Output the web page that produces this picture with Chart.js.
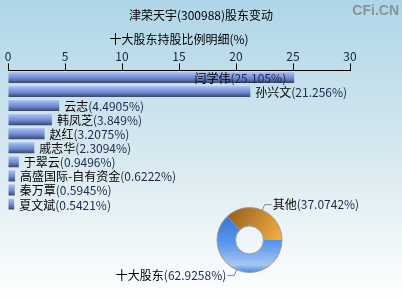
<!DOCTYPE html>
<html>
<head>
<meta charset="utf-8">
<script src="https://cdn.jsdelivr.net/npm/chart.js@4/dist/chart.umd.min.js"></script>
<style>
  html, body { margin: 0; padding: 0; }
  body {
    width: 402px; height: 300px; position: relative; overflow: hidden;
    background: linear-gradient(to bottom, #aed6e8 0%, #d6e8ef 50%, #ffffff 100%);
  }
  canvas { position: absolute; left: 0; top: 0; }
</style>
</head>
<body>
<canvas id="bar-chart" width="402" height="300"></canvas>
<canvas id="pie-chart" width="402" height="300"></canvas>
<script>
const chartTitle = '津荣天宇(300988)股东变动';
const barTitle = '十大股东持股比例明细(%)';
const watermark = 'CFi.CN';

const holderNames = ['闫学伟', '孙兴文', '云志', '韩凤芝', '赵红', '戚志华', '于翠云', '高盛国际-自有资金', '秦万覃', '夏文斌'];
const holderPct = [25.105, 21.256, 4.4905, 3.849, 3.2075, 2.3094, 0.9496, 0.6222, 0.5945, 0.5421];
const xTicks = [0, 5, 10, 15, 20, 25, 30];

const pieLabels = ['十大股东', '其他'];
const pieValues = [62.9258, 37.0742];

const FONT = '"Noto Sans CJK SC", "Noto Sans", sans-serif';
const NUM_COLOR = '#1c2852';
const BAR_PCT = 0.79;
Chart.defaults.font.family = FONT;
Chart.defaults.animation = false;

// name in black, "(value%)" in dark navy
function drawLabel(ctx, name, value, x, y, align) {
  const num = '(' + value + '%)';
  const wName = ctx.measureText(name).width;
  const wNum = ctx.measureText(num).width;
  const left = align === 'right' ? x - wName - wNum : x;
  ctx.textAlign = 'left';
  ctx.fillStyle = '#000';
  ctx.fillText(name, left, y);
  ctx.fillStyle = NUM_COLOR;
  ctx.fillText(num, left + wName, y);
  return wName + wNum;
}

// cylinder-like shading, one gradient per bar from the y scale
function barGradient(context) {
  const chart = context.chart;
  const y = chart.scales.y;
  const area = chart.chartArea;
  if (!y || !area) return '#7a96dc';
  const center = y.getPixelForValue(context.dataIndex);
  const half = (area.bottom - area.top) / holderNames.length * BAR_PCT / 2;
  const g = chart.ctx.createLinearGradient(0, center - half, 0, center + half);
  g.addColorStop(0, '#b4c6ea');
  g.addColorStop(0.3, '#86a4ea');
  g.addColorStop(0.6, '#6c86cc');
  g.addColorStop(1, '#3a4566');
  return g;
}

const titlePlugin = {
  id: 'titles',
  afterDraw(chart) {
    const ctx = chart.ctx;
    const area = chart.chartArea;
    ctx.save();
    ctx.font = '12px ' + FONT;
    ctx.textBaseline = 'middle';
    const w1 = ctx.measureText(chartTitle).width;
    ctx.fillStyle = '#000';
    ctx.fillText(chartTitle, chart.width / 2 - w1 / 2, 15);
    const w2 = ctx.measureText(barTitle).width;
    ctx.fillText(barTitle, (area.left + area.right) / 2 - w2 / 2, 39);
    ctx.font = 'bold 14px "Liberation Sans", sans-serif';
    ctx.fillStyle = '#8c9296';
    ctx.textAlign = 'right';
    ctx.fillText(watermark, 399, 11);
    ctx.restore();
  }
};

const barLabels = {
  id: 'barLabels',
  afterDatasetsDraw(chart) {
    const ctx = chart.ctx;
    const area = chart.chartArea;
    ctx.save();
    ctx.font = '12px ' + FONT;
    ctx.textBaseline = 'middle';
    chart.getDatasetMeta(0).data.forEach((el, i) => {
      const num = '(' + holderPct[i] + '%)';
      const w = ctx.measureText(holderNames[i]).width + ctx.measureText(num).width;
      if (el.x + 5 + w > area.right) {
        drawLabel(ctx, holderNames[i], holderPct[i], el.x - 8, el.y + 1, 'right');
      } else {
        drawLabel(ctx, holderNames[i], holderPct[i], el.x + 5, el.y + 1, 'left');
      }
    });
    ctx.restore();
  }
};

new Chart(document.getElementById('bar-chart'), {
  type: 'bar',
  data: {
    labels: holderNames,
    datasets: [{
      data: holderPct,
      backgroundColor: barGradient,
      borderWidth: 0,
      categoryPercentage: 1,
      barPercentage: BAR_PCT,
    }],
  },
  options: {
    indexAxis: 'y',
    responsive: false,
    layout: { padding: { left: 8, right: 52, top: 49, bottom: 89 } },
    plugins: { legend: { display: false }, tooltip: { enabled: false } },
    scales: {
      x: {
        position: 'top',
        min: 0, max: 30,
        afterBuildTicks: axis => { axis.ticks = xTicks.map(v => ({ value: v })); },
        ticks: { color: '#1a2240', font: { size: 12 }, padding: 0, maxRotation: 0 },
        grid: { drawOnChartArea: false, drawTicks: true, tickLength: 7, color: '#000' },
        border: { display: true, color: '#000', width: 1 },
      },
      y: { display: false },
    },
  },
  plugins: [barLabels, titlePlugin],
});

const pieStyle = {
  id: 'pieStyle',
  beforeDatasetsDraw(chart) {
    const ctx = chart.ctx;
    const arcs = chart.getDatasetMeta(0).data;
    const a = arcs[0];
    const R = a.outerRadius, cx = a.x, cy = a.y;
    const blue = ctx.createLinearGradient(0, cy - R, 0, cy + R);
    blue.addColorStop(0, '#2c6cd4');
    blue.addColorStop(0.55, '#5a96ea');
    blue.addColorStop(0.88, '#a6c6f4');
    blue.addColorStop(1, '#4a8ae6');
    const orange = ctx.createLinearGradient(cx - R * 0.7, cy - R, cx + R, cy);
    orange.addColorStop(0, '#8e5e1c');
    orange.addColorStop(0.55, '#c88a30');
    orange.addColorStop(1, '#f6b244');
    arcs[0].options = Object.assign({}, arcs[0].options, { backgroundColor: blue });
    arcs[1].options = Object.assign({}, arcs[1].options, { backgroundColor: orange });
  },
  afterDatasetsDraw(chart) {
    const ctx = chart.ctx;
    const arcs = chart.getDatasetMeta(0).data;
    const a = arcs[0];
    ctx.save();
    ctx.strokeStyle = '#9a9a9a';
    ctx.lineWidth = 1;
    ctx.beginPath();
    ctx.arc(a.x, a.y, a.outerRadius, 0, Math.PI * 2);
    ctx.stroke();
    ctx.beginPath();
    ctx.arc(a.x, a.y, a.innerRadius, 0, Math.PI * 2);
    ctx.stroke();

    ctx.font = '12px ' + FONT;
    ctx.textBaseline = 'middle';
    arcs.forEach((arc, i) => {
      const mid = (arc.startAngle + arc.endAngle) / 2;
      const dx = Math.cos(mid), dy = Math.sin(mid);
      const p0x = arc.x + dx * arc.outerRadius, p0y = arc.y + dy * arc.outerRadius;
      const p1x = arc.x + dx * (arc.outerRadius + 6), p1y = arc.y + dy * (arc.outerRadius + 6);
      const side = dx >= 0 ? 1 : -1;
      const p2x = p1x + side * 7;
      ctx.strokeStyle = '#888';
      ctx.beginPath();
      ctx.moveTo(p0x, p0y);
      ctx.lineTo(p1x, p1y);
      ctx.lineTo(p2x, p1y);
      ctx.stroke();
      drawLabel(ctx, pieLabels[i], pieValues[i], p2x + side * 1, p1y, side > 0 ? 'left' : 'right');
    });
    ctx.restore();
  }
};

new Chart(document.getElementById('pie-chart'), {
  type: 'doughnut',
  data: {
    labels: pieLabels,
    datasets: [{
      data: pieValues,
      backgroundColor: ['#4a8ae6', '#e0a040'],
      borderWidth: 0,
    }],
  },
  options: {
    responsive: false,
    rotation: 90,
    cutout: '43%',
    layout: { padding: { left: 217, right: 120, top: 207, bottom: 27 } },
    plugins: { legend: { display: false }, tooltip: { enabled: false } },
  },
  plugins: [pieStyle],
});
</script>
</body>
</html>
